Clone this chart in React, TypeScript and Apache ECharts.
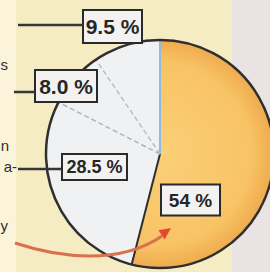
import React, { useEffect, useRef } from "react";
import * as echarts from "echarts";

// ---- data ----
const VALUES = [54, 28.5, 8.0, 9.5];
const LABELS = ["54 %", "28.5 %", "8.0 %", "9.5 %"];
const TEXT_FRAGMENTS = ["s", "n", "a-", "y"];

// ---- layout / style (not data) ----
const W = 270;
const H = 272;
const CX = 160;
const CY = 154;
const R = 114;
const LABEL_BOX = [
  { x: 190.5, y: 200, w: 59, h: 31, fs: 19 },
  { x: 94.5, y: 167, w: 65, h: 26, fs: 18 },
  { x: 66, y: 86, w: 62, h: 32, fs: 21 },
  { x: 112.5, y: 26.5, w: 59, h: 33, fs: 21 },
];
const FRAG_POS = [
  { x: 8, y: 64 },
  { x: 9, y: 145 },
  { x: 17, y: 166 },
  { x: 8, y: 225 },
];
const LEADERS = [
  [18, 25, 83, 25],
  [14, 92, 35, 92],
  [18, 169, 62, 169],
];

function boundaryPoint(frac: number) {
  const a = frac * Math.PI * 2;
  return [CX + R * Math.sin(a), CY - R * Math.cos(a)];
}

export default function App() {
  const ref = useRef<HTMLDivElement>(null);

  useEffect(() => {
    if (!ref.current) return;
    const chart = echarts.init(ref.current, undefined, { renderer: "svg" });
    const total = VALUES.reduce((a, b) => a + b, 0);
    const cum: number[] = [0];
    VALUES.forEach((v) => cum.push(cum[cum.length - 1] + v));

    const orange = new echarts.graphic.RadialGradient(
      CX,
      CY,
      R,
      [
        { offset: 0, color: "#fbcf78" },
        { offset: 0.8, color: "#f8c365" },
        { offset: 1, color: "#eeab4e" },
      ],
      true
    );

    const boundaryStyles = [
      { stroke: "#8fbadb", lineWidth: 2 },
      { stroke: "#2e2e2e", lineWidth: 2 },
      { stroke: "#a9b5c4", lineWidth: 1.5, lineDash: [5, 3] },
      { stroke: "#b4bfcc", lineWidth: 1.5, lineDash: [5, 3] },
    ];
    const boundaryLines = cum.slice(0, VALUES.length).map((c, i) => {
      const [x2, y2] = boundaryPoint(c / total);
      return {
        type: "line",
        z: 2,
        silent: true,
        shape: { x1: CX, y1: CY, x2, y2 },
        style: { ...boundaryStyles[i], fill: null },
      };
    });

    const fragments = TEXT_FRAGMENTS.map((t, i) => ({
      type: "text",
      z: 5,
      silent: true,
      style: {
        text: t,
        x: FRAG_POS[i].x,
        y: FRAG_POS[i].y,
        align: "right",
        textAlign: "right",
        verticalAlign: "middle",
        textVerticalAlign: "middle",
        font: "15px 'Liberation Sans', Arial, sans-serif",
        fill: "#2f2f2f",
      },
    }));

    const leaders = LEADERS.map(([x1, y1, x2, y2]) => ({
      type: "line",
      z: 5,
      silent: true,
      shape: { x1, y1, x2, y2 },
      style: { stroke: "#353535", lineWidth: 2.5 },
    }));

    const option: any = {
      animation: false,
      backgroundColor: "#f6ecc4",
      graphic: [
        {
          type: "rect",
          z: 0,
          silent: true,
          shape: { x: 0, y: 0, width: 16, height: H },
          style: { fill: "#fbf4da" },
        },
        {
          type: "rect",
          z: 0,
          silent: true,
          shape: { x: 232, y: 0, width: W - 232, height: H },
          style: { fill: "#e9e4e3" },
        },
        ...boundaryLines,
        ...fragments,
        ...leaders,
        {
          type: "bezierCurve",
          z: 6,
          silent: true,
          shape: { x1: 15, y1: 243, cpx1: 60, cpy1: 258, cpx2: 120, cpy2: 265, x2: 162, y2: 236 },
          style: { stroke: "#d9714e", lineWidth: 3, fill: null },
        },
        {
          type: "polygon",
          z: 6,
          silent: true,
          shape: { points: [[171, 228], [164.6, 239.5], [158.5, 230.2]] },
          style: { fill: "#e04a30" },
        },
      ],
      series: [
        {
          type: "pie",
          z: 1,
          silent: true,
          center: [CX, CY],
          radius: R,
          startAngle: 90,
          clockwise: true,
          label: { show: false },
          labelLine: { show: false },
          itemStyle: { borderWidth: 0 },
          data: VALUES.map((v, i) => ({
            value: v,
            name: LABELS[i],
            itemStyle: { color: i === 0 ? orange : "#eff1f3" },
          })),
        },
        {
          type: "pie",
          z: 3,
          silent: true,
          center: [CX, CY],
          radius: R,
          startAngle: 90,
          label: { show: false },
          labelLine: { show: false },
          data: [
            {
              value: total,
              name: "outline",
              itemStyle: { color: "transparent", borderColor: "#2f2f2f", borderWidth: 2.5 },
            },
          ],
        },
        {
          type: "pie",
          z: 4,
          silent: true,
          center: [CX, CY],
          radius: R,
          startAngle: 90,
          clockwise: true,
          itemStyle: { color: "transparent", borderWidth: 0 },
          labelLine: { show: false },
          labelLayout: (params: any) => {
            const b = LABEL_BOX[params.dataIndex];
            return { x: b.x, y: b.y, align: "center", verticalAlign: "middle" };
          },
          data: VALUES.map((v, i) => {
            const b = LABEL_BOX[i];
            return {
              value: v,
              name: LABELS[i],
              label: {
                show: true,
                position: "inside",
                formatter: LABELS[i],
                width: b.w - 2,
                height: b.h - 2,
                lineHeight: b.h - 2,
                overflow: "none",
                align: "center",
                verticalAlign: "middle",
                padding: 0,
                fontSize: b.fs,
                fontWeight: "bold",
                fontFamily: "'Liberation Sans', Arial, sans-serif",
                color: "#262626",
                backgroundColor: "#f4f2f0",
                borderColor: "#2a2a2a",
                borderWidth: 2,
              },
            };
          }),
        },
      ],
    };
    chart.setOption(option);
    return () => chart.dispose();
  }, []);

  return (
    <div
      ref={ref}
      style={{ position: "fixed", left: 0, top: 0, width: W, height: H }}
    />
  );
}
